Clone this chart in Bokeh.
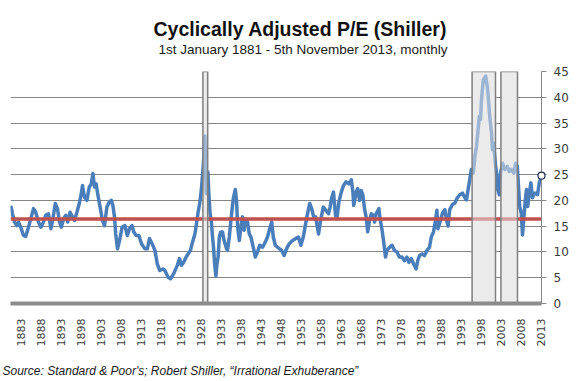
from bokeh.plotting import figure
from bokeh.models import Range1d, FixedTicker, Title
from bokeh.embed import file_html
from bokeh.resources import INLINE

# ---- data (decimal year, Shiller CAPE) ----
years = [
    1881.0, 1881.17, 1881.5, 1882.0, 1882.6, 1883.0, 1883.7, 1884.25, 1884.8, 1885.5,
    1886.2, 1886.75, 1887.3, 1888.0, 1888.6, 1889.25, 1889.8, 1890.5, 1891.1, 1891.6,
    1892.2, 1892.75, 1893.25, 1893.7, 1894.25, 1894.8, 1895.3, 1895.9, 1896.5, 1897.0,
    1897.6, 1898.2, 1898.7, 1899.0, 1899.5, 1900.1, 1900.7, 1901.2, 1901.6, 1902.0,
    1902.4, 1902.8, 1903.4, 1904.0, 1904.5, 1905.1, 1905.7, 1906.2, 1906.6, 1907.0,
    1907.3, 1907.75, 1908.25, 1908.9, 1909.6, 1910.2, 1910.75, 1911.4, 1911.8, 1912.4,
    1913.1, 1913.75, 1914.6, 1915.2, 1915.75, 1916.4, 1917.1, 1917.7, 1918.3, 1919.1,
    1919.6, 1920.4, 1921.0, 1921.8, 1922.7, 1923.25, 1923.75, 1924.3, 1924.9, 1925.4,
    1926.0, 1926.4, 1927.1, 1927.5, 1927.9, 1928.3, 1928.75, 1929.1, 1929.35, 1929.6,
    1929.8, 1929.95, 1930.15, 1930.35, 1930.6, 1930.9, 1931.2, 1931.5, 1931.8, 1932.0,
    1932.35, 1932.6, 1932.9, 1933.2, 1933.5, 1933.8, 1934.0, 1934.4, 1935.0, 1935.25,
    1935.7, 1936.1, 1936.5, 1936.75, 1937.2, 1937.5, 1937.8, 1938.2, 1938.6, 1939.0,
    1939.4, 1939.8, 1940.25, 1940.7, 1941.1, 1941.7, 1942.2, 1942.75, 1943.3, 1944.0,
    1944.7, 1945.25, 1945.8, 1946.3, 1946.7, 1947.2, 1947.75, 1948.3, 1948.8, 1949.4,
    1950.0, 1950.7, 1951.5, 1952.3, 1953.0, 1953.6, 1954.2, 1954.7, 1955.25, 1955.8,
    1956.3, 1956.9, 1957.3, 1958.0, 1958.6, 1959.2, 1959.8, 1960.5, 1960.9, 1961.3,
    1961.75, 1962.25, 1962.6, 1963.1, 1963.7, 1964.25, 1964.9, 1965.6, 1966.2, 1966.6,
    1966.8, 1967.4, 1967.8, 1968.25, 1968.7, 1969.1, 1969.5, 1969.9, 1970.3, 1970.75,
    1971.2, 1971.75, 1972.0, 1972.4, 1973.1, 1973.4, 1973.9, 1974.25, 1974.75, 1975.1,
    1975.75, 1976.4, 1977.0, 1977.6, 1978.25, 1978.9, 1979.5, 1980.1, 1980.6, 1981.2,
    1981.75, 1982.4, 1982.8, 1983.25, 1983.9, 1984.5, 1985.1, 1985.75, 1986.2, 1986.75,
    1987.25, 1987.6, 1987.85, 1988.3, 1989.0, 1989.6, 1990.0, 1990.4, 1990.8, 1991.5,
    1992.1, 1992.7, 1993.3, 1994.0, 1994.6, 1995.0, 1995.4, 1995.8, 1996.2, 1996.7,
    1997.1, 1997.5, 1997.9, 1998.2, 1998.5, 1998.75, 1999.2, 1999.6, 1999.8, 2000.2,
    2000.4, 2000.8, 2001.25, 2001.5, 2001.8, 2002.2, 2002.5, 2002.8, 2003.2, 2003.5,
    2004.0, 2004.6, 2005.2, 2005.7, 2006.25, 2006.8, 2007.3, 2007.7, 2008.0, 2008.3,
    2008.7, 2009.0, 2009.3, 2009.7, 2010.0, 2010.3, 2010.7, 2011.1, 2011.5, 2011.9,
    2012.3, 2012.75, 2013.2, 2013.75,
]
cape = [
    18.5, 18.7, 17.4, 15.8, 15.1, 15.8, 14.5, 13.2, 13.0, 14.8,
    16.8, 18.4, 17.7, 15.8, 14.8, 15.8, 17.1, 17.4, 14.5, 16.4,
    19.4, 18.4, 15.8, 14.8, 16.4, 17.1, 15.8, 17.7, 16.8, 16.1,
    17.7, 19.4, 21.3, 22.9, 20.6, 20.0, 22.6, 23.2, 25.2, 22.6,
    23.2, 21.3, 18.7, 16.1, 15.1, 18.7, 19.7, 20.0, 19.0, 16.8,
    13.5, 10.6, 12.2, 14.8, 15.1, 13.2, 14.5, 15.1, 13.9, 13.2,
    13.2, 11.6, 10.6, 10.6, 12.6, 11.6, 10.3, 7.7, 6.4, 6.7,
    6.4, 5.1, 4.8, 5.8, 7.4, 8.7, 7.4, 8.0, 9.0, 9.6,
    10.3, 11.6, 13.5, 15.5, 17.7, 19.4, 22.3, 25.8, 28.5, 32.5,
    26.0, 21.3, 23.5, 25.5, 21.0, 17.5, 16.0, 13.0, 10.5, 8.0,
    5.3, 7.5, 9.0, 12.8, 13.8, 13.2, 13.9, 12.2, 10.6, 10.3,
    12.9, 16.1, 19.0, 20.6, 22.1, 20.0, 14.8, 12.2, 14.8, 16.8,
    14.2, 16.4, 15.8, 13.5, 12.9, 10.9, 9.0, 10.0, 11.3, 10.9,
    11.9, 12.9, 14.5, 15.8, 12.9, 11.3, 10.9, 10.6, 10.3, 9.3,
    10.6, 11.6, 12.2, 12.6, 12.9, 11.3, 12.9, 15.1, 17.4, 19.4,
    18.4, 16.4, 16.8, 13.5, 16.4, 18.7, 18.1, 17.4, 18.7, 20.5,
    21.6, 17.1, 16.4, 19.7, 21.6, 22.9, 23.6, 23.2, 24.0, 21.6,
    19.0, 21.6, 22.3, 20.0, 21.9, 21.0, 18.4, 16.8, 13.9, 16.1,
    17.4, 17.1, 15.8, 17.4, 18.4, 16.4, 14.2, 12.2, 9.0, 10.3,
    10.9, 11.3, 10.3, 10.0, 9.0, 9.0, 8.3, 9.0, 8.0, 8.7,
    7.7, 6.7, 8.3, 9.3, 9.6, 9.3, 10.3, 10.9, 12.9, 13.9,
    16.1, 18.1, 14.5, 15.6, 17.5, 18.2, 16.2, 15.0, 18.2, 19.2,
    19.5, 20.5, 21.1, 21.4, 20.5, 20.1, 22.1, 24.0, 26.0, 25.3,
    28.5, 30.5, 33.7, 36.3, 35.7, 39.5, 43.4, 43.8, 44.1, 42.1,
    40.5, 36.3, 33.1, 29.8, 31.1, 27.2, 25.3, 22.1, 21.1, 25.3,
    27.2, 26.0, 26.6, 25.6, 26.0, 25.3, 27.2, 26.6, 22.7, 18.8,
    17.5, 13.3, 16.2, 20.1, 22.1, 18.8, 21.4, 23.4, 20.5, 21.4,
    21.4, 21.1, 23.4, 24.8,
]
mean_cape = 16.4
shade_start = [1929.1, 1996.4, 2003.6]
shade_end = [1930.3, 2002.25, 2007.75]
shade_top = [45, 45, 45]
tick_years = list(range(1883, 2014, 5))
y_ticks = list(range(0, 46, 5))

title_text = "Cyclically Adjusted P/E (Shiller)"
subtitle_text = "1st January 1881 - 5th November 2013, monthly"
source_text = "Source: Standard & Poor's; Robert Shiller, \u201cIrrational Exhuberance\u201d"

p = figure(width=584, height=380, output_backend="svg", toolbar_location=None,
           x_range=Range1d(1881.0, 2013.75), y_range=Range1d(0, 45),
           y_axis_location="right",
           min_border_left=10, min_border_right=43, min_border_top=71, min_border_bottom=77)
p.outline_line_color = None
p.background_fill_color = "white"
p.border_fill_color = "white"

# grid
p.xgrid.grid_line_color = None
p.ygrid.ticker = FixedTicker(ticks=y_ticks)
p.ygrid.grid_line_color = "#868686"
p.ygrid.grid_line_width = 1

# right y axis
p.yaxis.ticker = FixedTicker(ticks=y_ticks)
p.yaxis.axis_line_color = "#868686"
p.yaxis.major_tick_line_color = "#868686"
p.yaxis.major_tick_out = 5
p.yaxis.major_tick_in = 0
p.yaxis.minor_tick_line_color = None
p.yaxis.major_label_text_font = "DejaVu Sans"
p.yaxis.major_label_text_font_size = "12px"
p.yaxis.major_label_text_color = "#3c3c3c"
p.yaxis.major_label_standoff = 7

# bottom x axis (labels centred on the category position)
tick_pos = [y + 0.7 for y in tick_years]
p.xaxis.ticker = FixedTicker(ticks=tick_pos)
p.xaxis.major_label_overrides = {t: str(y) for t, y in zip(tick_pos, tick_years)}
p.xaxis.major_label_orientation = 3.14159265 / 2
p.xaxis.axis_line_color = "#8c8c8c"
p.xaxis.axis_line_width = 4
p.xaxis.major_tick_line_color = None
p.xaxis.minor_tick_line_color = None
p.xaxis.major_label_text_font = "DejaVu Sans"
p.xaxis.major_label_text_font_size = "11px"
p.xaxis.major_label_text_color = "#3c3c3c"
p.xaxis.major_label_standoff = 9

# opaque base of shaded periods (hides gridlines)
p.quad(left=shade_start, right=shade_end, bottom=0, top=shade_top,
       fill_color="#ebebeb", line_color=None)

# series
p.line(years, cape, line_color="#4a7ebb", line_width=3.5, line_join="round")
p.line([1881.0, 2013.75], [mean_cape, mean_cape], line_color="#c0504d", line_width=3.5)

# translucent cover of shaded periods
p.quad(left=shade_start, right=shade_end, bottom=0, top=shade_top,
       fill_color="#ebebeb", fill_alpha=0.5, line_color="#7f7f7f", line_width=1.5)

# last value marker
p.scatter([years[-1]], [cape[-1]], marker="circle", size=7, fill_color="white",
          line_color="#1f2f4f", line_width=1.2, level="overlay")

# titles: stacked outward from the frame (spacer, subtitle, title)
p.add_layout(Title(text=" ", text_font_size="1px", standoff=12), "above")
p.add_layout(Title(text=subtitle_text, align="left", offset=148,
                   text_font="Liberation Sans", text_font_size="13.5px",
                   text_font_style="normal", text_color="#1a1a1a", standoff=0), "above")
p.add_layout(Title(text=title_text, align="left", offset=143,
                   text_font="Liberation Sans", text_font_size="19.5px",
                   text_font_style="bold", text_color="#111111", standoff=0), "above")
# source: stacked below the axis (spacer, source)
p.add_layout(Title(text=" ", text_font_size="1px", standoff=8.5), "below")
p.add_layout(Title(text=source_text, align="left", offset=-8,
                   text_font="Liberation Sans", text_font_size="12px",
                   text_font_style="italic", text_color="#1a1a1a", standoff=0), "below")

open("out.html", "w").write(file_html(p, INLINE))
